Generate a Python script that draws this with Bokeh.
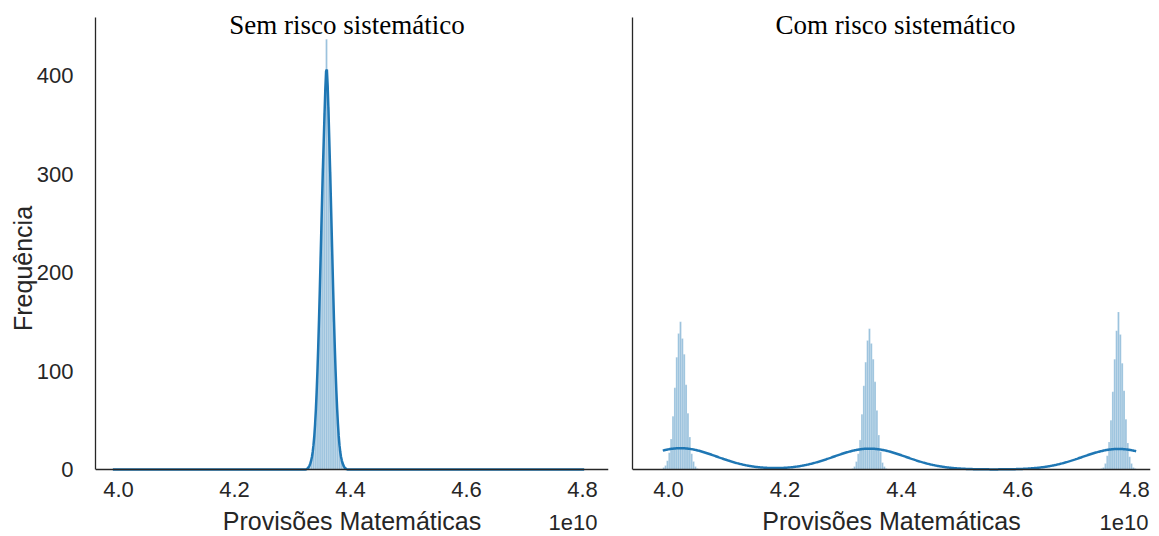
import numpy as np
from bokeh.plotting import figure
from bokeh.layouts import row
from bokeh.models import Label, FixedTicker, Range1d, NumeralTickFormatter, LinearAxis
from bokeh.embed import file_html
from bokeh.resources import INLINE

# ---------------- data (x in units of 1e10) ----------------
bin_width = 0.0032

# "Sem risco sistemático": one cluster
sem_start = 4.325
sem_counts = [1, 4, 10, 22, 47, 90, 151, 228, 306, 362, 437, 368, 302, 226, 150, 91, 48, 21, 10, 4, 1]

# "Com risco sistemático": three clusters
com_starts = [3.9902, 4.3146, 4.7421]
com_c1 = [2, 4, 9, 17, 31, 54, 83, 114, 138, 150, 133, 117, 86, 57, 33, 16, 8, 3, 1]
com_c2 = [1, 3, 8, 16, 30, 56, 85, 109, 131, 143, 128, 112, 89, 60, 35, 18, 7, 3, 1]
com_c3 = [1, 2, 6, 14, 28, 50, 79, 112, 141, 160, 137, 108, 80, 51, 27, 13, 6, 2, 1]

x_ticks = [4.0, 4.2, 4.4, 4.6, 4.8]
y_ticks = [0, 100, 200, 300, 400]
titles = ["Sem risco sistemático", "Com risco sistemático"]
x_label = "Provisões Matemáticas"
y_label = "Frequência"
offset_text = "1e10"

X_RANGE_LEFT = (3.9603, 4.8448)
X_RANGE_RIGHT = (3.9382, 4.8275)
Y_AXIS_TOP = 459

BLUE = "#1f77b4"
AX = "#262626"

H = 536
AXIS_TOP_PX = 17
ZERO_PX = 469
px_per_unit = (ZERO_PX - AXIS_TOP_PX) / Y_AXIS_TOP
Y_BOTTOM = -(H - ZERO_PX) / px_per_unit
Y_TOP = Y_AXIS_TOP + AXIS_TOP_PX / px_per_unit


def bins(start, counts):
    c = np.asarray(counts, dtype=float)
    left = start + bin_width * np.arange(len(c))
    return left, left + bin_width, c


def kde(groups, grid):
    centers = np.concatenate([l + bin_width / 2 for l, r, c in groups])
    w = np.concatenate([c for l, r, c in groups])
    n = w.sum()
    mean = (centers * w).sum() / n
    var = (w * (centers - mean) ** 2).sum() / (n - 1) + bin_width ** 2 / 12
    h = np.sqrt(var) * n ** (-0.2)
    sig = np.sqrt(h ** 2 + bin_width ** 2 / 12)
    d = (grid[:, None] - centers[None, :]) / sig
    dens = (w[None, :] * np.exp(-0.5 * d ** 2)).sum(axis=1) / (sig * np.sqrt(2 * np.pi))
    return dens * bin_width


sem_groups = [bins(sem_start, sem_counts)]
com_groups = [bins(s, c) for s, c in zip(com_starts, [com_c1, com_c2, com_c3])]
all_groups = sem_groups + com_groups
gmin = min(l.min() for l, r, c in all_groups)
gmax = max(r.max() for l, r, c in all_groups)
grid = np.linspace(gmin, gmax, 600)


def make(groups, title, xr, width, left_border, right_border, show_y, title_dx, off_dx):
    p = figure(width=width, height=H, output_backend="svg", toolbar_location=None,
               x_range=Range1d(*xr), y_range=Range1d(Y_BOTTOM, Y_TOP),
               x_axis_location=None,
               min_border_left=left_border, min_border_right=right_border,
               min_border_top=0, min_border_bottom=0)
    p.outline_line_color = None
    p.grid.visible = False

    for l, r, c in groups:
        p.quad(left=l, right=r, bottom=0, top=c, fill_color=BLUE, fill_alpha=0.45,
               line_color="white", line_alpha=0.5, line_width=0.4)
    p.line(grid, kde(groups, grid), line_color=BLUE, line_width=2.5)

    xaxis = LinearAxis(fixed_location=0, ticker=FixedTicker(ticks=x_ticks),
                       formatter=NumeralTickFormatter(format="0.0"),
                       axis_label=x_label)
    p.add_layout(xaxis, "below")

    for ax in [xaxis, p.yaxis[0]]:
        ax.axis_line_color = AX
        ax.axis_line_width = 1.3
        ax.major_tick_line_color = None
        ax.minor_tick_line_color = None
        ax.major_label_text_font = "Liberation Sans"
        ax.major_label_text_font_size = "22px"
        ax.major_label_text_color = AX
        ax.axis_label_text_font = "Liberation Sans"
        ax.axis_label_text_font_size = "25px"
        ax.axis_label_text_font_style = "normal"
        ax.axis_label_text_color = AX
    xaxis.major_label_standoff = 6
    xaxis.axis_label_standoff = 7

    yaxis = p.yaxis[0]
    yaxis.bounds = (0, Y_AXIS_TOP)
    if show_y:
        yaxis.ticker = FixedTicker(ticks=y_ticks)
        yaxis.major_label_standoff = 16
        yaxis.axis_label = y_label
        yaxis.axis_label_standoff = -3
    else:
        yaxis.ticker = FixedTicker(ticks=[])
        yaxis.major_label_standoff = 0

    p.add_layout(Label(x=sum(xr) / 2, y=451, x_offset=title_dx, text=title, text_align="center",
                       text_baseline="middle", text_font="Liberation Serif",
                       text_font_size="27px", text_color="black"))
    p.add_layout(Label(x=xr[1], y=-54, x_offset=off_dx, text=offset_text, text_align="right",
                       text_baseline="middle", text_font="Liberation Sans",
                       text_font_size="22px", text_color=AX))
    return p


p1 = make(sem_groups, titles[0], X_RANGE_LEFT, 620, 95, 12, True, -5, -11)
p2 = make(com_groups, titles[1], X_RANGE_RIGHT, 539, 12, 9, False, 4, -2)

layout = row(p1, p2)
open("out.html", "w").write(file_html(layout, INLINE))
